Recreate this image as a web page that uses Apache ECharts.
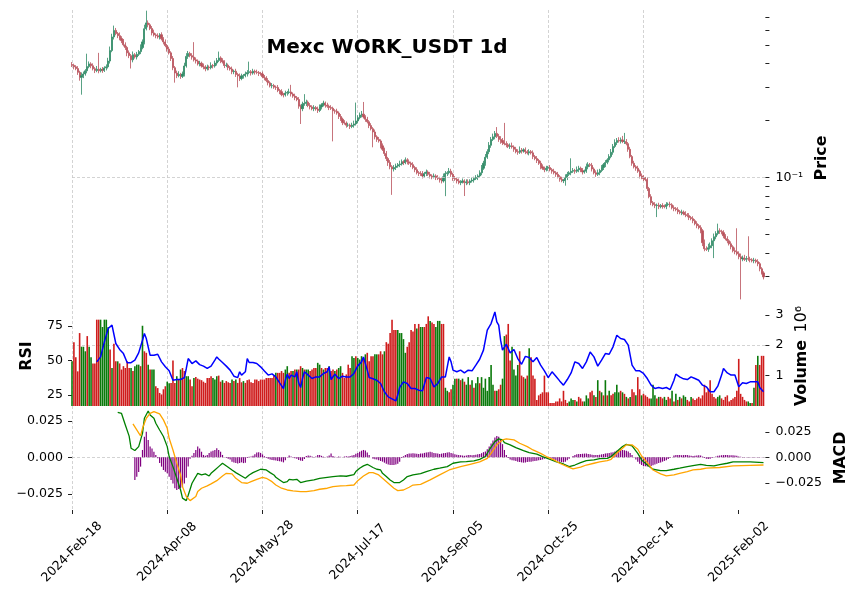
<!DOCTYPE html>
<html>
<head>
<meta charset="utf-8">
<title>Mexc WORK_USDT 1d</title>
<script src="https://cdn.jsdelivr.net/npm/echarts@6/dist/echarts.min.js"></script>
<style>
  html, body { margin: 0; background: #fff; }
  #chart { width: 859px; height: 600px; }
</style>
</head>
<body>
<div id="chart"></div>
<script>
// x axis: one slot per daily candle, labelled every 50 days
const tickLabels = ['2024-Feb-18', '2024-Apr-08', '2024-May-28', '2024-Jul-17',
  '2024-Sep-05', '2024-Oct-25', '2024-Dec-14', '2025-Feb-02']
const xTicks = [0, 50, 100, 150, 200, 250, 300, 350]
const priceTicks = [0.03, 0.04, 0.05, 0.06, 0.07, 0.08, 0.09, 0.1, 0.2, 0.3, 0.4, 0.5, 0.6, 0.7]

// daily close, open of day 0, wick lengths in % beyond the body
const firstOpen = 0.395
const close = [
  0.391, 0.384, 0.376, 0.359, 0.338, 0.345, 0.352, 0.366, 0.385, 0.398,
  0.389, 0.375, 0.367, 0.373, 0.366, 0.372, 0.368, 0.379, 0.384, 0.412,
  0.468, 0.552, 0.598, 0.575, 0.561, 0.541, 0.528, 0.502, 0.486, 0.455,
  0.440, 0.418, 0.445, 0.433, 0.447, 0.462, 0.485, 0.520, 0.610, 0.655,
  0.640, 0.612, 0.580, 0.566, 0.560, 0.552, 0.567, 0.540, 0.520, 0.497,
  0.476, 0.455, 0.425, 0.380, 0.356, 0.345, 0.350, 0.342, 0.352, 0.388,
  0.436, 0.452, 0.440, 0.432, 0.418, 0.412, 0.398, 0.401, 0.388, 0.384,
  0.375, 0.383, 0.380, 0.390, 0.388, 0.402, 0.415, 0.428, 0.414, 0.408,
  0.390, 0.392, 0.380, 0.374, 0.362, 0.364, 0.350, 0.344, 0.333, 0.343,
  0.345, 0.352, 0.358, 0.362, 0.356, 0.364, 0.360, 0.358, 0.354, 0.352,
  0.341, 0.336, 0.325, 0.316, 0.305, 0.306, 0.300, 0.299, 0.288, 0.284,
  0.274, 0.273, 0.279, 0.281, 0.283, 0.276, 0.269, 0.264, 0.258, 0.238,
  0.231, 0.244, 0.246, 0.250, 0.240, 0.236, 0.231, 0.234, 0.230, 0.226,
  0.236, 0.242, 0.247, 0.241, 0.238, 0.234, 0.232, 0.225, 0.224, 0.219,
  0.210, 0.203, 0.195, 0.194, 0.189, 0.189, 0.186, 0.189, 0.192, 0.199,
  0.207, 0.214, 0.216, 0.209, 0.203, 0.197, 0.188, 0.181, 0.174, 0.164,
  0.159, 0.156, 0.147, 0.141, 0.134, 0.126, 0.120, 0.114, 0.111, 0.113,
  0.115, 0.117, 0.118, 0.121, 0.120, 0.124, 0.121, 0.119, 0.117, 0.113,
  0.110, 0.106, 0.105, 0.104, 0.102, 0.105, 0.107, 0.104, 0.102, 0.101,
  0.102, 0.100, 0.099, 0.097, 0.096, 0.101, 0.105, 0.106, 0.108, 0.104,
  0.099, 0.098, 0.096, 0.094, 0.095, 0.096, 0.094, 0.095, 0.094, 0.096,
  0.097, 0.099, 0.100, 0.102, 0.106, 0.112, 0.119, 0.128, 0.137, 0.148,
  0.159, 0.164, 0.171, 0.165, 0.159, 0.157, 0.153, 0.151, 0.149, 0.146,
  0.147, 0.145, 0.141, 0.137, 0.136, 0.139, 0.138, 0.140, 0.137, 0.135,
  0.137, 0.135, 0.129, 0.126, 0.123, 0.119, 0.114, 0.112, 0.110, 0.112,
  0.113, 0.110, 0.108, 0.106, 0.104, 0.101, 0.098, 0.0964, 0.0964, 0.100,
  0.104, 0.106, 0.108, 0.109, 0.108, 0.110, 0.112, 0.109, 0.107, 0.108,
  0.114, 0.117, 0.116, 0.111, 0.106, 0.104, 0.106, 0.109, 0.113, 0.117,
  0.120, 0.124, 0.129, 0.136, 0.146, 0.153, 0.157, 0.156, 0.158, 0.155,
  0.155, 0.151, 0.141, 0.129, 0.119, 0.114, 0.112, 0.108, 0.102, 0.100,
  0.0988, 0.0976, 0.0875, 0.0793, 0.0737, 0.0720, 0.0711, 0.0715, 0.0702, 0.0711,
  0.0706, 0.0702, 0.0720, 0.0724, 0.0718, 0.0693, 0.0685, 0.0677, 0.0661, 0.0653,
  0.0657, 0.0645, 0.0637, 0.0630, 0.0615, 0.0607, 0.0592, 0.0571, 0.0557, 0.0544,
  0.0524, 0.0453, 0.0421, 0.0418, 0.0426, 0.0437, 0.0464, 0.0487, 0.0506, 0.0524,
  0.0520, 0.0512, 0.0493, 0.0476, 0.0464, 0.0447, 0.0431, 0.0411, 0.0406, 0.0396,
  0.0382, 0.0373, 0.0376, 0.0370, 0.0374, 0.0371, 0.0368, 0.0364, 0.0366, 0.0360,
  0.0351, 0.0330, 0.0314, 0.0299
]
const upWickPct = [
  3,2,2,3,2,4,3,2,17,3, 2,3,2,4,22,2,3,2,3,4, 5,4,6,3,2,4,3,2,3,2, 3,2,4,2,3,2,4,3,5,16,
  3,2,3,4,2,3,2,3,2,3, 2,3,2,3,2,3,4,2,3,4, 4,3,2,3,20,3,2,3,2,3, 2,3,2,4,2,3,3,8,2,3,
  2,3,2,2,3,2,3,2,3,3, 2,3,3,13,2,3,2,3,2,2, 3,2,2,3,2,3,2,2,3,2, 3,2,3,2,4,9,2,3,2,3,
  2,3,12,3,2,3,2,3,2,3, 3,2,3,2,3,2,3,2,2,3, 2,3,2,3,2,3,2,3,4,25, 3,3,4,16,2,3,2,3,2,3,
  2,3,2,3,2,3,2,3,2,3, 3,2,4,3,2,3,2,3,2,3, 2,3,2,3,4,2,3,2,3,2, 3,2,3,2,3,4,3,2,4,3,
  2,3,2,3,2,3,2,3,3,2, 3,2,3,2,3,4,3,4,3,4, 3,4,3,8,3,4,3,27,3,2, 3,4,2,3,3,5,3,2,3,2,
  3,2,3,2,3,2,3,3,2,3, 2,3,2,3,2,3,2,3,2,4, 3,2,17,3,2,4,3,2,3,2, 4,3,2,3,2,3,4,2,3,2,
  3,2,3,4,3,4,3,4,3,5, 11,3,2,3,2,3,2,3,2,3, 3,2,3,2,3,2,3,2,3,2, 3,2,3,2,3,2,3,2,3,2,
  3,2,3,2,3,2,3,2,3,2, 3,2,4,3,5,4,3,4,3,9, 3,2,3,2,3,2,3,2,4,33, 3,4,3,4,3,31,3,2,3,2,
  3,2,2,2
]
const downWickPct = [
  2,3,2,3,4,19,3,2,3,2, 3,2,3,2,3,2,3,2,3,2, 3,2,3,2,3,2,3,2,3,4, 3,10,3,2,3,2,3,2,3,2,
  3,2,3,2,3,2,3,2,3,2, 3,2,3,3,11,3,2,3,2,3, 2,3,2,3,2,3,2,3,2,3, 3,2,3,2,3,2,3,2,3,2,
  3,2,3,2,3,3,3,13,3,2, 3,2,3,2,3,2,3,2,3,2, 2,3,2,3,2,3,2,3,2,3, 2,3,2,3,2,3,2,3,2,3,
  17,3,2,3,2,3,2,3,2,3, 2,3,2,3,2,3,2,31,3,2, 3,2,3,2,3,2,3,2,3,2, 3,2,3,2,3,2,3,2,17,3,
  3,2,3,2,3,3,4,3,27,3, 3,2,3,2,3,2,3,2,3,2, 3,2,3,2,3,2,3,2,3,3, 2,3,2,3,3,2,21,3,2,3,
  3,2,3,2,3,2,15,3,2,3, 2,3,2,3,2,3,2,3,2,3, 3,2,3,2,3,4,3,2,3,2, 3,2,3,2,3,2,3,2,3,2,
  3,2,3,2,3,2,3,2,3,2, 3,2,3,2,3,2,3,2,3,6, 3,2,3,2,3,2,3,2,3,2, 2,3,2,3,2,3,2,3,2,3,
  3,2,3,2,3,2,3,2,3,2, 3,2,3,2,3,2,3,2,3,2, 3,2,3,2,3,2,3,13,3,2, 3,2,3,2,3,2,3,2,3,2,
  3,2,3,2,3,2,3,2,3,2, 3,4,3,2,3,2,3,19,3,2, 3,2,3,2,3,2,3,2,3,2, 3,39,3,2,3,2,3,2,3,2,
  3,3,2,3
]

// volume in millions, with the bar colour read per day (G up / R down)
const volumeMillions = [
  1.47, 2.1, 1.6, 1.14, 2.4, 1.95, 1.95, 1.8, 2.3, 1.95,
  1.6, 1.4, 1.4, 2.84, 2.84, 2.84, 2.6, 2.84, 2.84, 2.6,
  1.86, 1.25, 2.05, 1.47, 1.47, 1.4, 1.2, 1.31, 1.25, 1.47,
  1.25, 1.25, 1.15, 1.31, 1.36, 1.36, 1.31, 2.64, 1.8, 1.75,
  1.36, 1.2, 1.2, 1.2, 0.65, 0.59, 0.43, 0.38, 0.55, 0.65,
  0.8, 0.75, 0.76, 1.5, 0.76, 0.98, 0.87, 1.2, 1.25, 1.15,
  0.98, 0.98, 0.87, 0.65, 0.92, 0.95, 0.9, 0.87, 0.85, 0.8,
  0.76, 0.92, 0.92, 0.98, 0.92, 0.87, 0.98, 1.0, 0.8, 0.85,
  0.76, 0.82, 0.78, 0.76, 0.87, 0.82, 0.87, 0.76, 0.92, 0.78,
  0.82, 0.76, 0.85, 0.87, 0.78, 0.76, 0.87, 0.87, 0.82, 0.87,
  0.87, 0.87, 0.92, 0.92, 0.92, 0.92, 1.0, 1.09, 1.09, 1.09,
  1.15, 1.09, 1.2, 1.31, 1.09, 1.15, 1.15, 1.2, 1.2, 1.2,
  1.31, 1.25, 1.2, 1.2, 1.2, 1.15, 1.2, 1.25, 1.25, 1.42,
  1.36, 1.25, 1.2, 1.25, 1.25, 1.31, 1.15, 1.2, 1.15, 1.2,
  1.25, 1.31, 1.09, 0.92, 1.04, 1.36, 1.25, 1.64, 1.58, 1.64,
  1.58, 1.53, 1.64, 1.58, 1.7, 1.75, 1.47, 1.64, 1.64, 1.7,
  1.7, 1.7, 1.8, 1.7, 1.8, 2.1, 2.05, 2.4, 2.84, 2.5,
  2.5, 2.5, 2.4, 2.4, 2.2, 1.75, 1.95, 2.1, 2.5, 2.45,
  2.7, 2.55, 2.7, 2.6, 2.6, 2.6, 2.7, 2.95, 2.8, 2.75,
  2.7, 2.6, 2.8, 2.8, 2.7, 2.7, 0.6, 0.5, 0.45, 0.55,
  0.7, 0.9, 0.9, 0.9, 0.85, 0.9, 0.8, 0.7, 0.95, 0.7,
  0.85, 0.6, 0.75, 0.95, 0.75, 0.95, 0.6, 0.9, 0.5, 0.95,
  1.35, 0.7, 0.5, 0.5, 0.55, 0.7, 0.9, 2.3, 2.35, 2.7,
  1.5, 1.95, 1.2, 1.0, 1.35, 1.8, 1.0, 0.95, 0.9, 1.0,
  1.9, 1.6, 1.0, 0.9, 0.2, 0.35, 0.4, 0.45, 1.0, 0.45,
  0.45, 0.1, 0.1, 0.1, 0.15, 0.15, 0.25, 0.15, 0.5, 0.2,
  0.1, 0.15, 0.25, 0.2, 0.2, 0.15, 0.3, 0.25, 0.15, 0.15,
  0.35, 0.25, 0.45, 0.5, 0.35, 0.3, 0.85, 0.5, 0.45, 0.35,
  0.85, 0.35, 0.5, 0.35, 0.4, 0.45, 0.7, 0.45, 0.5, 0.45,
  0.4, 0.3, 0.25, 0.3, 0.55, 0.45, 0.35, 0.95, 0.55, 0.35,
  0.4, 0.35, 0.3, 0.25, 0.25, 0.7, 0.35, 0.25, 0.3, 0.3,
  0.25, 0.3, 0.2, 0.3, 0.25, 0.5, 0.15, 0.4, 0.2, 0.3,
  0.25, 0.35, 0.3, 0.2, 0.15, 0.3, 0.25, 0.2, 0.25, 0.3,
  0.25, 0.35, 0.7, 0.45, 0.55, 0.85, 0.4, 0.3, 0.25, 0.3,
  0.35, 0.25, 0.2, 0.3, 0.35, 0.15, 0.2, 0.25, 0.3, 0.5,
  1.55, 0.4, 0.3, 0.2, 0.15, 0.15, 0.1, 0.1, 0.6, 1.35,
  1.65, 1.35, 1.65, 1.65
]
const volumeDir = ('GRRRRGGGRG' + 'GRRRRGGGGG' + 'RGRRGRRRRR' + 'RGRGGGRGRR' + 'GRGGRRRRRR' +
  'GGRRRGRGRR' + 'GGRRGRRRRR' + 'RRRRGGGRRG' + 'RRRRGRGRRR' + 'GRRRRRRRRR' +
  'RRRRRRRGRR' + 'RRGGRRGRGR' + 'RGRGGRRRRG' + 'GRGRRGRRGR' + 'GGRRRRRGGR' +
  'GGGRGRRRRG' + 'GRRRGRRRRR' + 'RGGGGGRRRR' + 'RGRGGRRRGR' + 'RGGGRRGGRR' +
  'GGRGRGRGGR' + 'GRGGRGGGGG' + 'GGRGRRGGRR' + 'RGGGGRRRGR' + 'GRRRRRRRRR' +
  'RRRRRRRRRR' + 'RGGGRGRRRG' + 'GGRRGRGRGR' + 'GRGRRGGGRG' + 'RGRGRRGRRG' +
  'RRRRGGGRGR' + 'RGGRRGRGRG' + 'RGGRRGRRRR' + 'RRRRRRRRRG' + 'GRRRRRRRRR' +
  'RRRRRGGRGR' + 'GRRR').split('')

// RSI: [day, value]
const rsi = [[13,49],[15,52.6],[17,63.5],[19,73.2],[21,75.6],[23,62.3],[25,58],[27,55],[29,48.4],[31,48.4],
  [33,50.2],[35,55.5],[37,64.7],[38,69.6],[39,65.9],[41,53.8],[43,53.8],[45,54.5],[47,49],[49,45.4],
  [51,42.5],[53,35.7],[55,36.2],[57,36.2],[59,37.6],[60,44.2],[61,51.4],[63,47.8],[65,49.7],[67,47],
  [69,45.9],[71,44.2],[73,45.9],[75,50.2],[76,52.6],[77,51.1],[79,48.5],[81,45.9],[83,43],[85,38.6],
  [87,37.6],[88,41.8],[89,39.4],[91,41.8],[92,51.4],[93,48.5],[95,48.5],[97,47.8],[99,45.4],[101,42.3],
  [103,39.4],[105,40.3],[107,38.1],[109,33.8],[111,29.7],[112,35.7],[113,40.1],[114,36.9],[115,39.4],[117,38.1],
  [118,41.8],[119,33.8],[120,30.4],[121,36.9],[122,41.8],[124,39.4],[126,36.9],[128,38.1],[129,39.4],[130,38.1],
  [132,40.6],[134,41.8],[135,45.4],[136,36.2],[138,40.1],[140,36.9],[142,38.6],[144,38.1],[146,38.1],[148,40.6],
  [150,46.1],[152,49],[153,52.6],[154,53.8],[155,43],[156,37.6],[158,36.7],[160,35.7],[162,33.3],[164,27.3],
  [166,23.6],[168,22.2],[170,20.7],[171,24.9],[172,30.4],[174,34.5],[176,33.3],[178,29.7],[180,29.7],[182,28.5],
  [184,28],[186,37.6],[188,36.9],[190,30.9],[192,33.3],[194,38.1],[196,38.1],[197,45.4],[198,52.6],[199,49],
  [200,43],[202,41.8],[204,43],[206,41],[208,43],[210,42.5],[212,46.6],[214,50.9],[216,57.5],[218,72],
  [220,76.8],[222,85.2],[223,78],[224,75.6],[225,64.7],[226,57.5],[228,61.8],[230,55.5],[232,58],[234,51.4],
  [236,47.3],[238,53],[240,52.1],[242,49],[244,52.1],[246,46.6],[248,42.5],[250,37.6],[252,41.8],[254,38.6],
  [256,35.2],[258,32.1],[260,36.2],[262,41],[264,49],[266,47.8],[268,44.2],[270,49],[272,56.2],[274,52.6],
  [276,45.9],[278,50.2],[280,55],[282,54.5],[284,59.9],[286,68.3],[288,65.9],[290,65.2],[292,61.1],[294,46.6],
  [296,42.5],[298,42.5],[300,40.6],[302,36.9],[304,32.1],[306,29.7],[308,30.4],[310,29.7],[312,30.4],[314,28.9],
  [316,35.7],[317,40.1],[319,38.1],[321,36.7],[323,36.2],[325,38.1],[327,36.9],[329,35.7],[331,32.1],[333,30.9],
  [335,27.3],[337,27.3],[339,31.4],[341,39.4],[342,44.2],[344,41],[346,39.4],[348,39.4],[350,30.9],[352,33.8],
  [354,33.3],[356,34.5],[358,34.5],[360,34.5],[361,30.4],[363,27.3]]

// MACD line and signal line: [day, value]
const macd = [[24,0.0308],[26,0.030],[28,0.0221],[30,0.0145],[31,0.0062],[33,0.0046],[35,0.0073],[37,0.0164],
  [38,0.0267],[40,0.0317],[41,0.029],[43,0.0267],[44,0.0233],[46,0.0187],[48,0.0142],[50,0.0073],[51,0.0005],
  [53,-0.0064],[55,-0.0144],[57,-0.0224],[58,-0.028],[60,-0.0297],[61,-0.026],[63,-0.0178],[65,-0.0133],
  [66,-0.011],[68,-0.0121],[70,-0.0114],[72,-0.0128],[73,-0.011],[75,-0.0087],[77,-0.0064],[79,-0.0041],
  [80,-0.0053],[82,-0.0068],[84,-0.0087],[86,-0.0105],[87,-0.0114],[89,-0.0128],[91,-0.0144],[93,-0.0121],
  [95,-0.0105],[99,-0.0082],[100,-0.0075],[102,-0.0087],[104,-0.0105],[106,-0.0121],[107,-0.0137],[109,-0.0155],
  [111,-0.0173],[113,-0.0167],[114,-0.0151],[116,-0.0155],[118,-0.0151],[120,-0.0173],[123,-0.0164],[127,-0.0155],
  [130,-0.0144],[134,-0.0137],[137,-0.0132],[141,-0.0128],[144,-0.013],[148,-0.0119],[149,-0.0098],[151,-0.0075],
  [153,-0.0059],[155,-0.0048],[156,-0.0059],[158,-0.007],[160,-0.0082],[162,-0.0087],[163,-0.011],[165,-0.0132],
  [167,-0.0155],[169,-0.0173],[170,-0.0182],[172,-0.0173],[174,-0.0155],[176,-0.0132],[179,-0.0121],[183,-0.0112],
  [186,-0.0098],[190,-0.0082],[193,-0.0075],[197,-0.0064],[200,-0.0041],[204,-0.0032],[207,-0.003],[211,-0.0025],
  [214,-0.0014],[217,0.0005],[219,0.005],[222,0.0107],[224,0.0126],[226,0.0119],[227,0.01],[230,0.0085],
  [233,0.0066],[237,0.0046],[240,0.0032],[244,0.0021],[247,0.0005],[251,-0.0014],[254,-0.003],[258,-0.0046],
  [261,-0.0064],[264,-0.0053],[267,-0.0037],[270,-0.0023],[274,-0.0018],[277,-0.0009],[281,-0.0007],[283,0.0005],
  [286,0.0039],[289,0.0073],[291,0.0089],[294,0.0078],[297,0.0027],[299,-0.0018],[302,-0.0053],[305,-0.0082],
  [309,-0.0091],[312,-0.0091],[316,-0.0082],[319,-0.0075],[323,-0.0064],[326,-0.0057],[330,-0.0048],[333,-0.0055],
  [337,-0.0059],[340,-0.005],[344,-0.0041],[347,-0.0032],[356,-0.0032],[363,-0.0037]]
const signal = [[32,0.0228],[34,0.0187],[36,0.0146],[37,0.0198],[39,0.0267],[41,0.0301],[43,0.0313],[44,0.0313],
  [46,0.0297],[48,0.0256],[50,0.0198],[51,0.013],[53,0.005],[55,-0.0041],[57,-0.0121],[58,-0.0201],[60,-0.0269],
  [62,-0.0297],[63,-0.0292],[65,-0.0269],[66,-0.0235],[68,-0.0212],[71,-0.0196],[73,-0.0182],[76,-0.016],
  [79,-0.0128],[81,-0.011],[84,-0.0114],[86,-0.0144],[89,-0.0173],[92,-0.0178],[94,-0.0167],[97,-0.0151],
  [100,-0.0137],[102,-0.0144],[105,-0.0167],[107,-0.019],[110,-0.0212],[113,-0.0224],[116,-0.023],[120,-0.0235],
  [123,-0.0235],[127,-0.0228],[130,-0.0219],[134,-0.0212],[137,-0.0201],[141,-0.0196],[144,-0.0194],[148,-0.019],
  [150,-0.016],[153,-0.0128],[156,-0.0105],[158,-0.0105],[161,-0.0121],[163,-0.0144],[166,-0.0178],[169,-0.0212],
  [171,-0.0228],[174,-0.0224],[177,-0.0205],[179,-0.019],[183,-0.0185],[188,-0.0155],[193,-0.0121],[198,-0.0087],
  [204,-0.0064],[209,-0.0048],[214,-0.0032],[218,-0.0007],[220,0.0027],[223,0.0085],[226,0.0119],[228,0.0126],
  [232,0.0119],[235,0.0096],[239,0.0073],[242,0.005],[246,0.0027],[249,0.0005],[253,-0.0018],[256,-0.0041],
  [260,-0.0064],[263,-0.008],[267,-0.0068],[270,-0.0053],[274,-0.0041],[277,-0.0032],[281,-0.0023],[283,-0.0014],
  [286,0.0027],[289,0.0062],[291,0.0085],[294,0.0085],[297,0.0055],[299,0.0009],[302,-0.0037],[305,-0.0087],
  [309,-0.0114],[312,-0.0128],[316,-0.0121],[319,-0.011],[323,-0.0098],[326,-0.0087],[330,-0.0082],[333,-0.0075],
  [340,-0.007],[347,-0.0059],[356,-0.0055],[363,-0.0053]]

// MACD histogram, one bar per day from day 33
const histStart = 33
const hist = [
  -0.0155,-0.0133,-0.010,-0.0064,0.005,0.0141,0.0175,0.0119,0.0073,0.006,
  0.0038,0.0016,-0.0007,-0.004,-0.0064,-0.0087,-0.0099,-0.011,-0.0133,-0.0155,
  -0.018,-0.0212,-0.0224,-0.0218,-0.021,-0.0205,-0.018,-0.014,-0.0064,-0.001,
  0.001,0.003,0.005,0.0073,0.006,0.0038,0.0016,0.001,0.0016,0.003,
  0.004,0.0045,0.005,0.0062,0.005,0.0038,0.0016,0,-0.0005,-0.001,
  -0.0015,-0.003,-0.0035,-0.004,-0.0042,-0.004,-0.0035,-0.004,-0.0037,-0.0005,
  0.0003,0.0005,0.001,0.002,0.0033,0.0035,0.003,0.002,0.0007,-0.0005,
  -0.001,-0.0015,-0.0018,-0.002,-0.0022,-0.0025,-0.0027,-0.003,-0.0035,-0.002,
  -0.0001,0.0012,0.0005,-0.0001,-0.0007,-0.001,-0.0018,-0.0023,-0.0025,-0.0012,
  0.0008,0.0012,0.001,0.0005,0.0002,0.0006,0.0015,0.0016,0.001,0.0004,
  0.0002,0.0005,0.0012,0.0025,0.0008,0.0004,0.0002,0.0006,0.0003,0,
  0.0005,0.0007,0.0005,0.0008,0.0012,0.0016,0.0024,0.003,0.0038,0.0045,
  0.005,0.0046,0.0033,0.0016,0,-0.001,-0.0014,-0.0016,-0.002,-0.0025,
  -0.003,-0.0037,-0.0045,-0.005,-0.0053,-0.0053,-0.0053,-0.005,-0.0045,-0.003,
  -0.0005,0.0007,0.0016,0.0022,0.0025,0.0026,0.0027,0.0025,0.0024,0.0022,
  0.0025,0.0026,0.003,0.0033,0.0035,0.0038,0.0035,0.003,0.0028,0.0025,
  0.0023,0.0025,0.0028,0.003,0.0032,0.0035,0.003,0.0025,0.002,0.0018,
  0.0015,0.0014,0.0012,0.001,0.0012,0.0015,0.0016,0.0014,0.0016,0.0018,
  0.002,0.0023,0.0028,0.0035,0.004,0.0055,0.0073,0.0095,0.0115,0.0135,
  0.0145,0.014,0.0125,0.009,0.005,0.0015,-0.0005,-0.0015,-0.002,-0.0022,
  -0.0025,-0.003,-0.0033,-0.0035,-0.0037,-0.0035,-0.0032,-0.003,-0.003,-0.0027,
  -0.0025,-0.0023,-0.002,-0.0018,-0.0015,-0.001,-0.0005,-0.0003,-0.0005,-0.001,
  -0.0015,-0.002,-0.0025,-0.003,-0.0033,-0.0035,-0.003,-0.002,-0.001,0,
  0.0008,0.0015,0.002,0.0022,0.0022,0.0024,0.0025,0.0025,0.0022,0.002,
  0.0018,0.0016,0.0015,0.0015,0.0018,0.002,0.0022,0.0025,0.0028,0.003,
  0.0033,0.0035,0.004,0.0045,0.005,0.0055,0.005,0.0048,0.0045,0.004,
  0.003,0.0015,0,-0.0015,-0.003,-0.0045,-0.0053,-0.006,-0.0062,-0.0064,
  -0.0062,-0.006,-0.0055,-0.005,-0.0045,-0.004,-0.0035,-0.003,-0.0025,-0.002,
  -0.0012,-0.0005,0,0.0012,0.0015,0.0016,0.0015,0.0014,0.0015,0.0016,
  0.0015,0.0012,0.001,0.0008,0.001,0.0012,0.0014,0.0012,0.0005,-0.0005,
  -0.001,-0.0012,-0.001,-0.0005,0,0.0005,0.001,0.0012,0.0014,0.0015,
  0.0016,0.0015,0.0014,0.0014,0.0013,0.0012,0.001,0.0005,0.0003,0.0002,
  0.0002,0.0002,0.0001,0.0001,0.0001,0.0001,0.0001,0.0001,0.0001,0.0001,0.0001
]

const UP = '#2f8a66'
const DOWN = '#b9505a'
const GRID_LINE = { color: '#c8c8c8', type: [3, 2], width: 0.8 }
const FONT = 'DejaVu Sans'

const candles = close.map((c, i) => {
  const o = i ? close[i - 1] : firstOpen
  const hi = Math.max(o, c) * (1 + upWickPct[i] / 100)
  const lo = Math.min(o, c) * (1 - downWickPct[i] / 100)
  return [i, o, c, lo, hi]
})
const volumeBars = volumeMillions.map((v, i) => ({
  value: [i, v],
  itemStyle: { color: volumeDir[i] === 'G' ? '#0b7a0b' : '#cf1c1c' }
}))
const histBars = hist.map((v, k) => [histStart + k, v])

const fmtSigned = v => (v < 0 ? '\u2212' : '') + Math.abs(v).toFixed(3)

const makeX = (gridIndex, bottom) => ({
  type: 'value',
  gridIndex,
  min: 0,
  max: 364,
  interval: 50,
  axisLine: { show: false, onZero: false },
  axisTick: { show: bottom, customValues: xTicks, length: 4, lineStyle: { color: '#222' } },
  axisLabel: {
    show: bottom,
    customValues: xTicks,
    rotate: 45,
    align: 'center',
    verticalAlign: 'middle',
    margin: 42,
    fontSize: 12.6,
    color: '#000',
    formatter: v => tickLabels[Math.round(v / 50)] || ''
  },
  splitLine: { show: true, showMinLine: true, showMaxLine: false, lineStyle: GRID_LINE }
})

const nameStyle = { fontSize: 15.8, fontWeight: 'bold', color: '#000', fontFamily: FONT }
const labelStyle = { fontSize: 12.6, color: '#000' }
const tickStyle = { length: 4, lineStyle: { color: '#222' } }
const noLine = { show: false, onZero: false }

const chart = echarts.init(document.getElementById('chart'))

chart.setOption({
  animation: false,
  backgroundColor: '#fff',
  textStyle: { fontFamily: FONT },
  title: {
    text: 'Mexc WORK_USDT 1d',
    left: 382,
    top: 33,
    textAlign: 'center',
    textStyle: { fontSize: 20, fontWeight: 'bold', color: '#000', fontFamily: FONT }
  },
  grid: [
    { left: 72, right: 93.6, top: 10, height: 296, outerBoundsMode: 'none' },
    { left: 72, right: 93.6, top: 306, height: 100, outerBoundsMode: 'none' },
    { left: 72, right: 93.6, top: 406, height: 104, outerBoundsMode: 'none' }
  ],
  xAxis: [makeX(0, false), makeX(1, false), makeX(2, true)],
  yAxis: [
    {
      type: 'log', gridIndex: 0, position: 'right', min: 0.021, max: 0.766,
      axisLine: noLine,
      axisTick: { ...tickStyle, customValues: priceTicks },
      axisLabel: { ...labelStyle, customValues: [0.1], margin: 10, formatter: () => '10\u207B\u00B9' },
      splitLine: { show: false },
      name: 'Price', nameLocation: 'middle', nameRotate: 90, nameGap: 48, nameTextStyle: nameStyle
    },
    {
      type: 'value', gridIndex: 1, position: 'right', min: 0, max: 3.29,
      axisLine: noLine,
      axisTick: { ...tickStyle, customValues: [1, 2, 3] },
      axisLabel: { ...labelStyle, customValues: [1, 2, 3], margin: 10 },
      splitLine: { show: true, showMinLine: false, showMaxLine: false, lineStyle: GRID_LINE },
      name: '{b|Volume}  {n|10\u2076}', nameLocation: 'middle', nameRotate: 90, nameGap: 23,
      nameTextStyle: { rich: { b: nameStyle, n: { fontSize: 15.8, color: '#000', fontFamily: FONT } } }
    },
    {
      type: 'value', gridIndex: 1, position: 'left', min: 17, max: 89.5,
      axisLine: noLine,
      axisTick: { ...tickStyle, customValues: [25, 50, 75] },
      axisLabel: { ...labelStyle, customValues: [25, 50, 75], margin: 9 },
      splitLine: { show: false },
      name: 'RSI', nameLocation: 'middle', nameRotate: 90, nameGap: 37, nameTextStyle: nameStyle
    },
    {
      type: 'value', gridIndex: 2, position: 'left', min: -0.0361, max: 0.0351,
      axisLine: noLine,
      axisTick: { ...tickStyle, customValues: [-0.025, 0, 0.025] },
      axisLabel: { ...labelStyle, customValues: [-0.025, 0, 0.025], margin: 9, formatter: fmtSigned },
      splitLine: { show: false }
    },
    {
      type: 'value', gridIndex: 2, position: 'right', min: -0.0515, max: 0.0505,
      axisLine: noLine,
      axisTick: { ...tickStyle, customValues: [-0.025, 0, 0.025] },
      axisLabel: { ...labelStyle, customValues: [-0.025, 0, 0.025], margin: 10, formatter: fmtSigned },
      splitLine: { show: true, showMinLine: false, showMaxLine: false, lineStyle: GRID_LINE },
      name: 'MACD', nameLocation: 'middle', nameRotate: 90, nameGap: 64, nameTextStyle: nameStyle
    }
  ],
  series: [
    {
      name: 'price',
      type: 'candlestick',
      xAxisIndex: 0,
      yAxisIndex: 0,
      data: candles,
      encode: { x: 0, y: [1, 2, 3, 4] },
      barWidth: 1.6,
      itemStyle: { color: UP, color0: DOWN, borderColor: UP, borderColor0: DOWN, borderWidth: 0.8 },
      markLine: {
        silent: true,
        symbol: 'none',
        label: { show: false },
        lineStyle: GRID_LINE,
        data: [{ yAxis: 0.1 }]
      }
    },
    {
      name: 'volume',
      type: 'bar',
      xAxisIndex: 1,
      yAxisIndex: 1,
      data: volumeBars,
      barWidth: 1.6,
      z: 1
    },
    {
      name: 'RSI',
      type: 'line',
      xAxisIndex: 1,
      yAxisIndex: 2,
      data: rsi,
      showSymbol: false,
      lineStyle: { color: '#0000ff', width: 1.5 },
      z: 3
    },
    {
      name: 'hist',
      type: 'bar',
      xAxisIndex: 2,
      yAxisIndex: 3,
      data: histBars,
      barWidth: 1.2,
      itemStyle: { color: '#800080' }
    },
    {
      name: 'MACD',
      type: 'line',
      xAxisIndex: 2,
      yAxisIndex: 3,
      data: macd,
      showSymbol: false,
      lineStyle: { color: '#008000', width: 1.3 },
      z: 3
    },
    {
      name: 'signal',
      type: 'line',
      xAxisIndex: 2,
      yAxisIndex: 3,
      data: signal,
      showSymbol: false,
      lineStyle: { color: '#ffa500', width: 1.3 },
      z: 3
    }
  ]
})

window.addEventListener('resize', () => chart.resize())
</script>
</body>
</html>
